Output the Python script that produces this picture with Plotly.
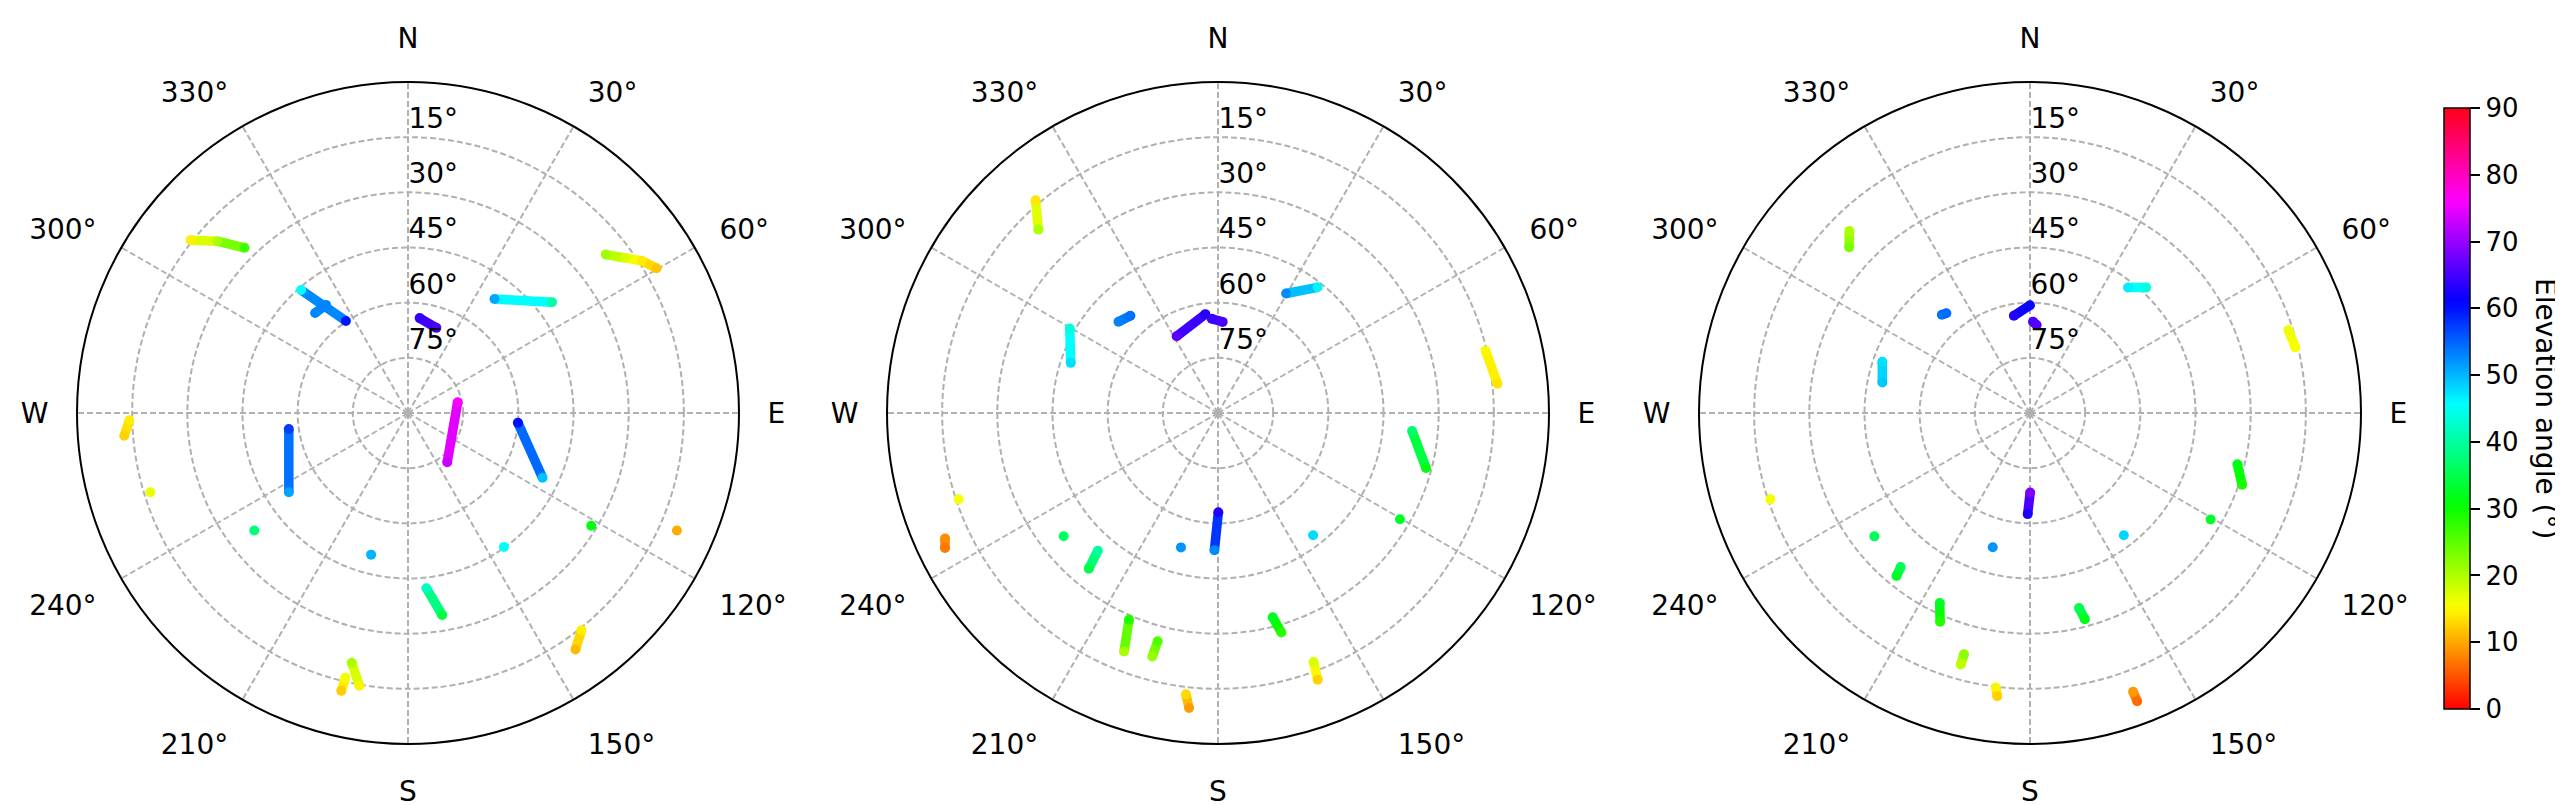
"""
卫星天空图：三个时段的方位角/高度角轨迹
"""

import plotly.graph_objects as go
from plotly.colors import sample_colorscale

# 每条轨迹：方位角 (°) 与高度角 (°)
P1_AZ = [
    [308.5, 312.0, 315.3], [319.0, 326.0], [317.1, 322.8], [7.0, 18.4],
    [37.2, 52.4], [51.3, 54.5, 57.0, 59.8], [268.5, 265.4], [252.9],
    [262.3, 236.4], [77.9, 141.4], [95.1, 115.7], [232.6], [194.6],
    [144.4], [121.6], [113.6], [174.0, 170.4], [141.4, 144.7],
    [192.7, 190.1], [193.3, 193.5],
]
P1_EL = [
    [14.5, 20.2, 26.8], [45.7, 59.8], [52.9, 53.1], [64.0, 65.6],
    [51.1, 40.6], [21.1, 17.4, 14.1, 11.8], [14.2, 12.6], [16.7],
    [57.3, 51.1], [76.2, 72.9], [60.0, 49.4], [37.4], [50.2],
    [45.2], [31.5], [10.2], [42.1, 34.3], [14.4, 11.2],
    [20.4, 14.7], [16.0, 12.3],
]

P2_AZ = [
    [319.4, 315.6], [299.7, 288.8], [312.5, 318.0], [331.7, 352.7],
    [356.2, 2.9], [29.7, 38.4], [76.9, 84.0], [95.3, 104.8], [120.3],
    [142.1], [179.8, 181.5], [195.4], [231.4], [221.1, 219.7], [251.6],
    [245.3, 243.7], [203.3, 201.5], [194.8, 195.1], [186.5, 185.6],
    [165.0, 163.9], [159.0, 159.5],
]
P2_EL = [
    [13.8, 20.2], [43.6, 47.7], [53.3, 54.4], [66.3, 62.9],
    [64.3, 65.2], [52.6, 46.4], [15.3, 13.6], [37.0, 31.5], [32.7],
    [47.9], [63.0, 52.7], [52.1], [36.3], [40.3, 35.0], [15.7],
    [8.3, 7.2], [28.8, 20.3], [25.8, 21.4], [13.0, 9.4],
    [32.5, 27.9], [17.5, 12.6],
]

P3_AZ = [
    [315.2, 312.5], [318.1, 320.0], [350.6, 0.0], [1.9, 4.3], [38.0, 42.8],
    [72.2, 76.1], [289.1, 281.7], [103.9, 108.7], [120.5], [142.5],
    [179.9, 181.3], [195.5], [231.6], [220.0, 219.3], [205.4, 203.3],
    [195.3, 195.4], [187.1, 186.6], [165.9, 165.1], [159.7, 159.6], [251.6],
]
P3_EL = [
    [20.3, 23.3], [54.1, 54.6], [63.2, 60.7], [65.2, 66.0], [46.7, 43.5],
    [16.2, 15.7], [47.5, 49.0], [31.9, 29.1], [33.0], [48.1],
    [68.4, 62.5], [52.1], [36.0], [35.3, 32.7], [32.8, 28.2],
    [22.0, 19.1], [14.8, 12.5], [35.3, 32.0], [9.2, 6.4], [15.6],
]

ANG_TICKS = [0, 30, 60, 90, 120, 150, 180, 210, 240, 270, 300, 330]
ANG_LABELS = ['N', '30°', '60°', 'E', '120°', '150°', 'S', '210°', '240°', 'W', '300°', '330°']
RAD_TICKS = [15, 30, 45, 60, 75]
RAD_LABELS = ['15°', '30°', '45°', '60°', '75°']
CB_TICKS = [0, 10, 20, 30, 40, 50, 60, 70, 80, 90]

# matplotlib 'hsv' 色带
HSV = [
    [0.0, 'rgb(255,0,0)'], [0.15873, 'rgb(255,239,0)'], [0.174603, 'rgb(247,255,0)'],
    [0.333333, 'rgb(8,255,0)'], [0.349206, 'rgb(0,255,16)'], [0.507937, 'rgb(0,255,255)'],
    [0.666667, 'rgb(0,16,255)'], [0.68254, 'rgb(8,0,255)'], [0.84127, 'rgb(247,0,255)'],
    [0.857143, 'rgb(255,0,239)'], [1.0, 'rgb(255,0,24)'],
]

W, H = 2563, 805
CENTERS = [400, 1210, 2022]
R = 331
CY = 405
FONT = 'DejaVu Sans'
GRID = '#b0b0b0'


def add_tracks(fig, az_list, el_list, subplot):
    """添加一个天空图的卫星轨迹"""
    # 轨迹段（按段中点高度角上色）
    for az, el in zip(az_list, el_list):
        for i in range(len(az) - 1):
            mid = (el[i] + el[i + 1]) / 2 / 90
            color = sample_colorscale(HSV, [mid])[0]
            fig.add_trace(go.Scatterpolar(
                theta=az[i:i + 2], r=el[i:i + 2], mode='lines',
                line=dict(color=color, width=9.5),
                subplot=subplot, showlegend=False, hoverinfo='skip'
            ))
    # 采样点
    all_az = [a for az in az_list for a in az]
    all_el = [e for el in el_list for e in el]
    fig.add_trace(go.Scatterpolar(
        theta=all_az, r=all_el, mode='markers',
        marker=dict(size=10, color=all_el, coloraxis='coloraxis', line=dict(width=0)),
        subplot=subplot, showlegend=False
    ))


def polar_layout(cx):
    """单个极坐标子图的布局"""
    return dict(
        domain=dict(x=[(cx - R) / W, (cx + R) / W], y=[(H - CY - R) / H, (H - CY + R) / H]),
        bgcolor='white',
        angularaxis=dict(
            rotation=90, direction='clockwise',
            tickmode='array', tickvals=ANG_TICKS, ticktext=ANG_LABELS,
            showline=True, linecolor='black', linewidth=2,
            showgrid=True, gridcolor=GRID, gridwidth=1.5, griddash='6px,3px',
            ticks='outside', ticklen=22, tickcolor='rgba(0,0,0,0)',
            tickfont=dict(size=28, color='black', family=FONT)
        ),
        radialaxis=dict(
            range=[90, 0], angle=90, tickangle=90,
            tickmode='array', tickvals=RAD_TICKS,
            # 标签略高于网格圈
            ticktext=[t + '<br>\u00a0' for t in RAD_LABELS],
            showline=False, ticks='',
            showgrid=True, gridcolor=GRID, gridwidth=1.5, griddash='6px,3px',
            tickfont=dict(size=28, color='black', family=FONT)
        ),
    )


fig = go.Figure()
add_tracks(fig, P1_AZ, P1_EL, 'polar')
add_tracks(fig, P2_AZ, P2_EL, 'polar2')
add_tracks(fig, P3_AZ, P3_EL, 'polar3')

fig.update_layout(
    width=W, height=H,
    margin=dict(l=0, r=0, t=0, b=0),
    paper_bgcolor='white',
    font=dict(family=FONT, color='black'),
    polar=polar_layout(CENTERS[0]),
    polar2=polar_layout(CENTERS[1]),
    polar3=polar_layout(CENTERS[2]),
    coloraxis=dict(
        colorscale=HSV, cmin=0, cmax=90,
        colorbar=dict(
            x=2436 / W, xanchor='left', xpad=0,
            y=(H - 400.5) / H, yanchor='middle', ypad=0,
            len=601, lenmode='pixels', thickness=26, thicknessmode='pixels',
            outlinecolor='black', outlinewidth=1.5,
            tickmode='array', tickvals=CB_TICKS,
            ticks='outside', ticklen=10, tickwidth=1.5, tickcolor='black',
            tickfont=dict(size=26, family=FONT)
        )
    ),
)

# 色标标题（自上而下阅读）
fig.add_annotation(
    text='Elevation angle (°)', textangle=90,
    x=2538 / W, y=(H - 400) / H, xref='paper', yref='paper',
    xanchor='center', yanchor='middle',
    showarrow=False, font=dict(size=28, family=FONT, color='black')
)

fig.write_html("out.html")
